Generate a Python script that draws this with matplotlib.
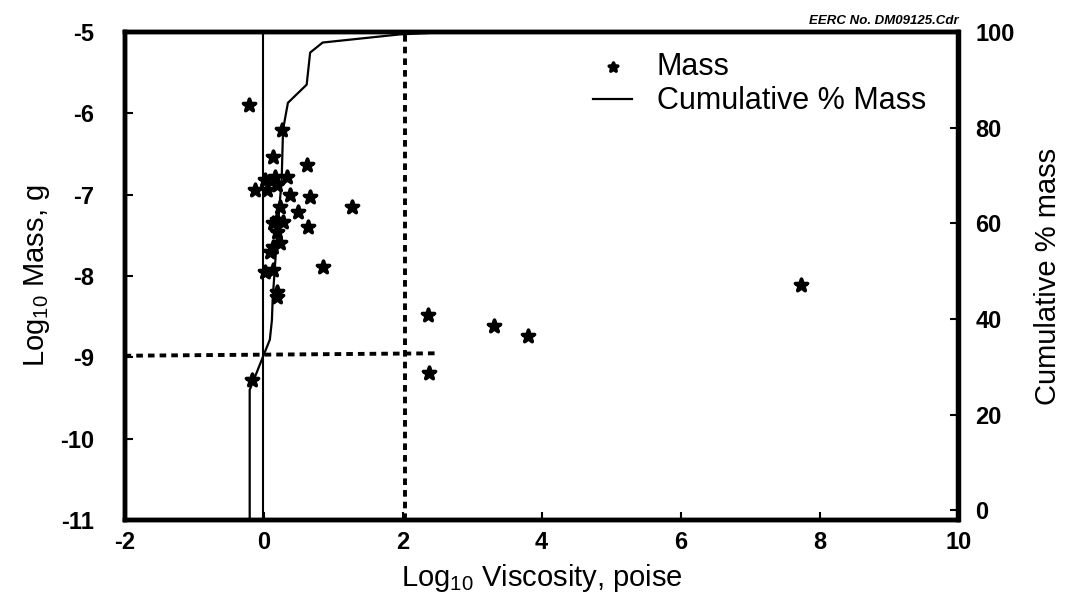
import matplotlib.pyplot as plt
from matplotlib.markers import MarkerStyle

plt.rcParams['font.family'] = ['Liberation Sans', 'DejaVu Sans']
plt.rcParams['mathtext.fontset'] = 'custom'
plt.rcParams['mathtext.rm'] = 'Liberation Sans'
plt.rcParams['axes.unicode_minus'] = False

# particle data: log10 viscosity (poise) vs log10 mass (g)
visc = [-0.21, 0.26, 0.13, 0.62, 0.16, 0.33, 0.02, -0.13, 0.05, 0.19,
        0.38, 0.67, 0.49, 0.23, 0.19, 0.13, 0.28, 0.64, 0.20, 0.13,
        0.23, 0.09, 0.85, 0.02, 0.13, 0.19, 0.20, 1.27, 2.37, 2.38,
        3.32, 3.81, 7.73, -0.17]
mass = [-5.90, -6.21, -6.54, -6.64, -6.78, -6.78, -6.82, -6.94, -6.94, -6.88,
        -7.00, -7.03, -7.21, -7.15, -7.31, -7.35, -7.34, -7.40, -7.46, -7.64,
        -7.60, -7.71, -7.89, -7.95, -7.93, -8.20, -8.26, -7.15, -8.48, -9.19,
        -8.62, -8.74, -8.11, -9.28]

# cumulative % mass curve
cum_x = [-0.20, -0.20, -0.13, -0.01, 0.09, 0.12, 0.13, 0.20, 0.26, 0.28,
         0.35, 0.62, 0.67, 0.85, 1.96, 2.68, 10.0]
cum_y = [-2.0, 25.2, 27.7, 32.1, 35.7, 39.8, 44.0, 58.7, 69.1, 79.6,
         85.2, 89.0, 95.7, 97.8, 99.5, 100.0, 100.0]

# reference lines
ref_vx = -0.01
dash_vx = 2.03
dash_hx = [-2.0, 2.5]
dash_hy = [-8.98, -8.95]

fig = plt.figure(figsize=(10.65, 6.04), dpi=100)
ax = fig.add_axes([0.117, 0.139, 0.783, 0.808])
ax2 = ax.twinx()

star = MarkerStyle('*', joinstyle='round')
ax.scatter(visc, mass, marker=star, s=85, color='black', edgecolors='black',
           linewidths=2.6, zorder=3, label='Mass')
ax.axvline(ref_vx, color='black', lw=1.5)
ax.axvline(dash_vx, color='black', lw=2.8, linestyle=(0, (1.7, 1.3)))
ax.plot(dash_hx, dash_hy, color='black', lw=2.8, linestyle=(0, (1.7, 1.3)))

ax2.plot(cum_x, cum_y, color='black', lw=1.6, label='Cumulative % Mass')

ax.set_xlim(-2, 10)
ax.set_ylim(-11, -5)
ax2.set_ylim(-2, 100)
ax.set_xticks(range(-2, 11, 2))
ax.set_yticks(range(-11, -4))
ax2.set_yticks(range(0, 101, 20))

for a in (ax, ax2):
    for sp in a.spines.values():
        sp.set_linewidth(3.2)
    a.tick_params(direction='in', length=6, width=1.5, labelsize=17)
    for lab in a.get_xticklabels() + a.get_yticklabels():
        lab.set_fontweight('bold')
ax.tick_params(axis='y', pad=22)
ax.tick_params(axis='x', pad=8)
ax2.tick_params(axis='y', pad=12)

ax.set_xlabel(r'Log$_{10}$ Viscosity, poise', fontsize=21, labelpad=6)
ax.set_ylabel(r'Log$_{10}$ Mass, g', fontsize=21, labelpad=6)
ax2.set_ylabel('Cumulative % mass', fontsize=21, labelpad=14)

h1, l1 = ax.get_legend_handles_labels()
h2, l2 = ax2.get_legend_handles_labels()
ax2.legend(h1 + h2, l1 + l2, loc='upper right', bbox_to_anchor=(0.985, 1.0),
           frameon=False, fontsize=22, handlelength=1.3, handletextpad=0.8,
           labelspacing=0.15, borderaxespad=0.25, markerscale=0.7)

fig.text(0.9, 0.955, 'EERC No. DM09125.Cdr', ha='right', va='bottom',
         fontsize=9.5, style='italic', weight='bold')

fig.savefig('out.png', dpi=100)
